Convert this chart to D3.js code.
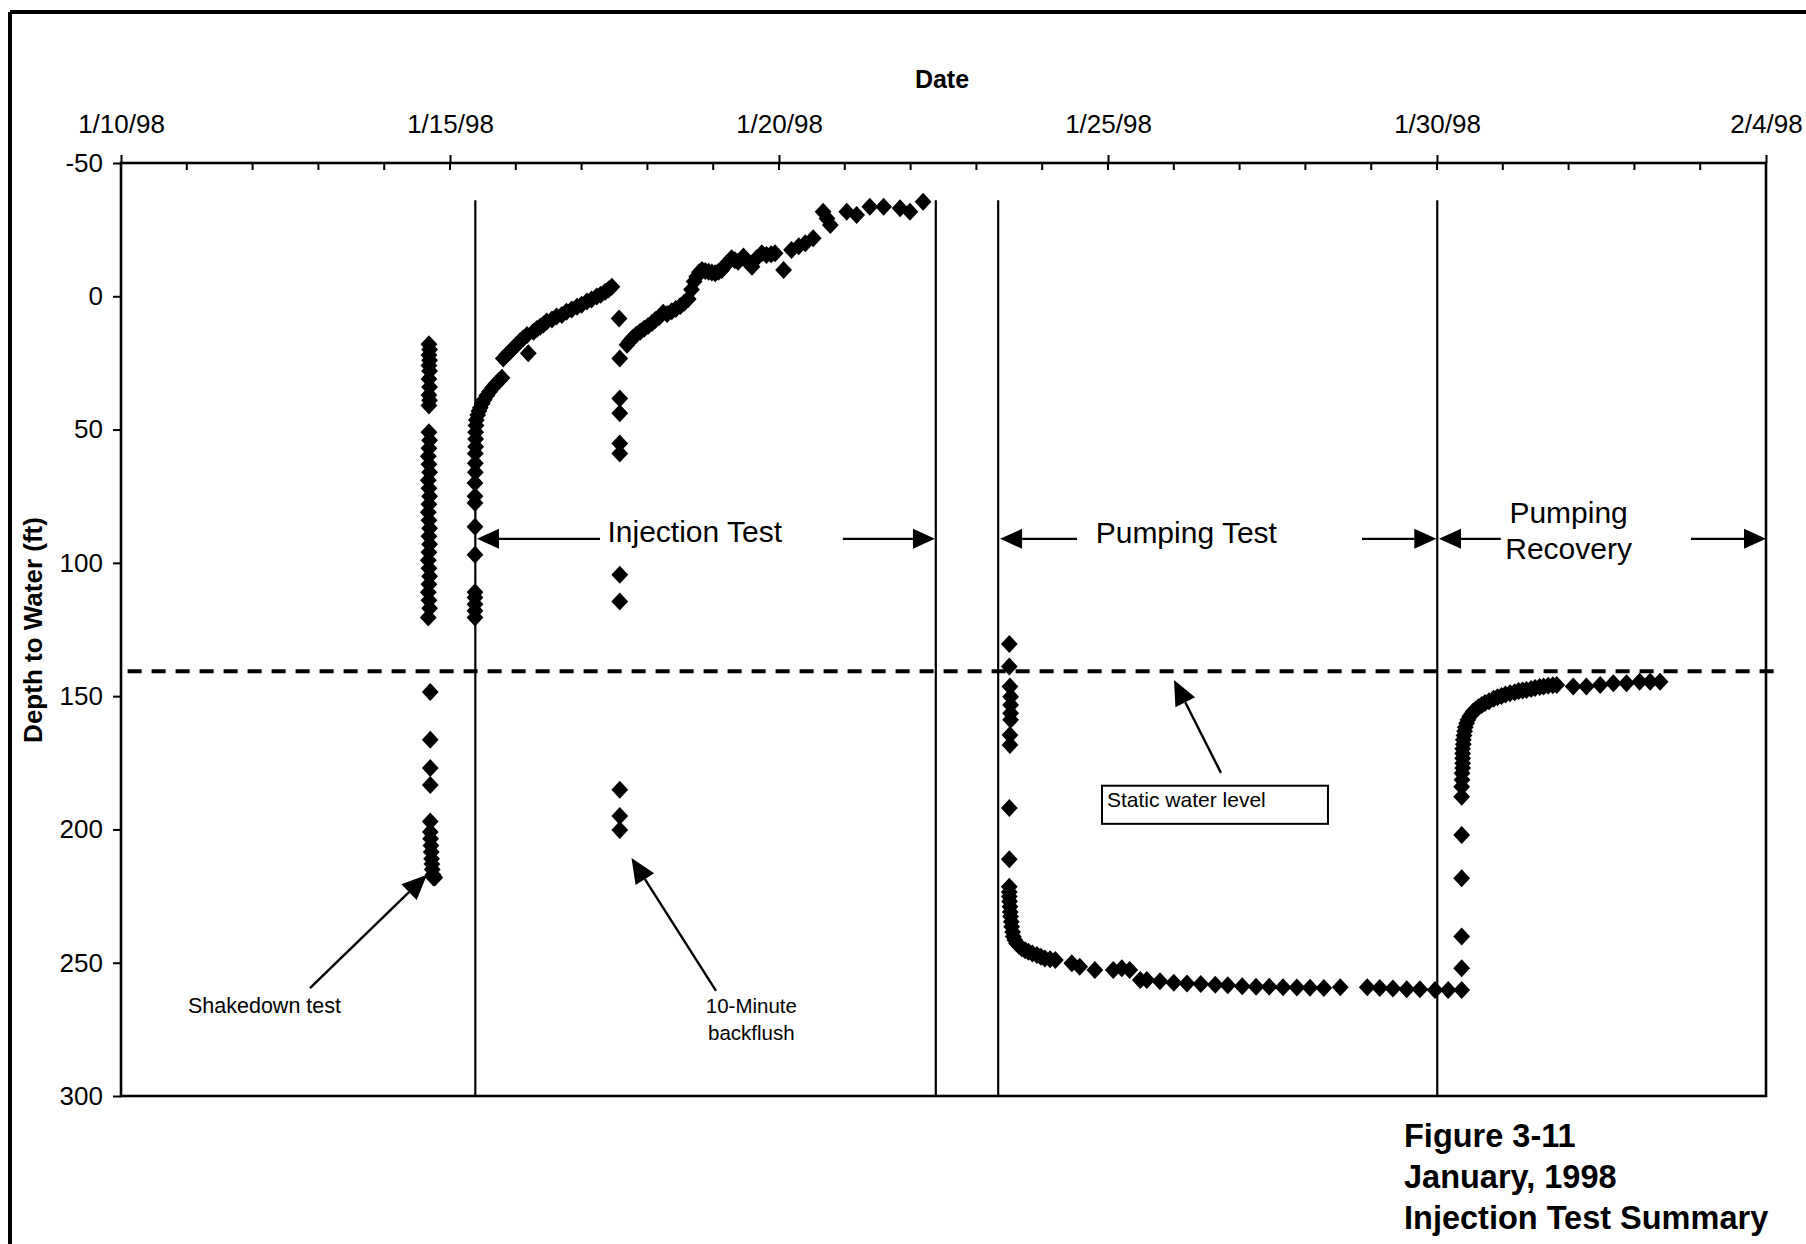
<!DOCTYPE html>
<html><head><meta charset="utf-8">
<script src="https://cdn.jsdelivr.net/npm/d3@7"></script>
<style>
html,body{margin:0;padding:0;background:#fff;}
svg{display:block;}
</style></head><body>
<svg id="chart" width="1806" height="1244"></svg>
<script>
// ---------- DATA (dates are day-of-January 1998, decimal; 32 = Feb 1) ----------
const xTickDays   = [10, 15, 20, 25, 30, 35];
const xTickLabels = ["1/10/98", "1/15/98", "1/20/98", "1/25/98", "1/30/98", "2/4/98"];
const yTicks      = [-50, 0, 50, 100, 150, 200, 250, 300];

const shakedownDay = [14.68,14.69,14.68,14.69,14.68,14.69,14.68,14.69,14.68,14.69,14.68,
  14.68,14.69,14.68,14.67,14.68,14.69,14.67,14.68,14.69,14.68,14.67,14.68,14.69,14.68,14.69,14.68,14.67,14.68,14.69,14.68,14.67,14.68,14.69,14.67,
  14.70,14.70,14.70,14.70,14.70,14.70,14.705,14.71,14.715,14.72,14.725,14.73,14.74,14.75,14.77];
const shakedownDepth = [18,20,22,24,26,28,31,34,37,39,41,
  51,54,57,60,63,66,69,72,75,78,81,84,87,90,93,96,99,102,105,108,111,114,117,120.5,
  148.4,166.4,177,183.3,197,201,203.5,206,208.5,211,213,215,217,218,218];

const injectionDay = [15.38,15.38,15.38,15.38,15.38,15.38,15.38,15.38,15.38,15.38,15.385,15.385,15.385,15.39,15.39,15.39,15.395,15.40,15.42,15.44,15.46,15.49,15.52,15.56,15.60,15.65,15.70,15.75,15.79,
  15.81,15.86,15.91,15.96,16.01,16.06,16.11,16.19,16.17,16.27,16.32,16.37,16.42,16.47,16.55,16.62,16.70,16.77,16.85,16.93,17.00,17.08,17.15,17.23,17.29,17.36,17.41,17.46,
  17.69,17.73,17.78,17.83,17.89,17.95,18.01,18.07,18.12,18.18,18.24,18.30,18.37,18.43,18.50,18.56,18.62,18.67,18.71,18.75,18.79,18.83,18.88,18.93,18.98,19.03,19.08,19.13,19.17,19.21,19.28,19.33,19.38,19.46,19.52,19.59,19.66,19.74,19.81,19.88,19.94,20.07,20.19,20.30,20.40,20.52,20.67,20.73,20.78,21.03,21.18,21.38,21.59,21.84,21.99,22.19];
const injectionDepth = [120.5,118,115.5,113,111,97,86.5,77.5,75,70,66,62.6,59,56.4,53.5,51,48.5,46.4,44.5,43,41.8,40.2,38.8,37.2,35.8,34.2,32.8,31.6,30.6,
  23.3,22,20.8,19.5,18.3,17,15.8,21.4,14.5,13.3,12.3,11.4,10.6,9.5,8.7,7.6,7,5.8,5,3.9,3.2,2,1.2,0.1,-0.6,-1.7,-2.5,-3.6,
  18.2,16.9,15.6,14.4,13.3,12.2,11.1,10,8.9,7.8,6.2,6.6,5.6,4.8,3.6,2.4,1.0,-2.5,-5.5,-7.4,-9,-9.9,-9.5,-9.2,-8.9,-8.6,-9.2,-9.9,-11.2,-12.4,-14.3,-13.5,-13.0,-14.9,-13,-11.1,-14.3,-16.1,-15.5,-15.8,-16.1,-9.9,-17.4,-18.8,-19.9,-21.8,-31.7,-29.2,-26.7,-31.7,-30.5,-33.6,-33.6,-33.0,-31.7,-35.5];

const backflushDay   = [17.57,17.58,17.58,17.58,17.58,17.58,17.58,17.58,17.58,17.58,17.58];
const backflushDepth = [8.3,23.3,38.3,43.9,55.2,59,104.5,114.5,185.1,195,200.2];

const pumpingDay = [23.50,23.50,23.51,23.52,23.52,23.52,23.52,23.51,23.51,23.50,23.50,23.50,23.50,23.50,23.505,23.51,23.515,23.52,23.53,23.536,23.55,23.56,23.585,23.61,23.65,23.69,23.74,23.79,23.85,23.92,23.98,24.04,24.12,24.20,
  24.45,24.57,24.80,25.08,25.21,25.33,25.49,25.59,25.79,26.00,26.20,26.41,26.63,26.82,27.04,27.25,27.45,27.66,27.87,28.07,28.28,28.53,
  28.94,29.13,29.33,29.54,29.74,29.97,30.17];
const pumpingDepth = [130.4,138.9,146.4,150.2,153.3,156.4,158.9,164.6,168.3,192,211.2,221.5,223.5,225.2,227,229,231,232.7,234.6,236.5,238.5,240.2,241.5,242.7,243.7,244.6,245.3,245.9,246.5,247.1,247.8,248.4,248.7,249,
  250.2,251.5,252.7,252.7,252.1,252.7,256.5,256.5,257,257.5,257.8,258,258.3,258.5,258.8,259,259,259.2,259.3,259.4,259.5,259.2,
  259.2,259.5,259.7,260,260,260.2,260.2];

const recoveryDay = [30.375,30.375,30.375,30.375,30.375,30.375,30.375,30.38,30.38,30.39,30.39,30.39,30.39,30.39,30.40,30.40,30.41,30.42,30.43,30.45,30.47,30.50,30.53,30.55,30.59,30.63,30.68,30.73,30.79,30.86,30.92,30.98,31.04,31.11,31.18,31.24,31.30,31.36,31.43,31.49,31.56,31.62,31.69,31.76,31.82,
  32.07,32.27,32.48,32.68,32.88,33.08,33.24,33.39];
const recoveryDepth = [260.2,252.1,240.2,218.3,202.1,187.7,184,181.4,178.9,177,175.2,173.3,171.5,169.7,168,166.4,164.8,163.2,161.7,160.2,158.9,157.5,156.6,155.8,155,154.2,153.3,152.6,151.9,151,150.4,149.9,149.4,148.9,148.5,148.1,147.9,147.7,147.3,146.9,146.6,146.4,146.1,145.9,145.8,
  146.4,146.4,145.8,145.2,145.2,144.6,144.6,144.6];

const periodLineDays = [15.385, 22.383, 23.331, 30.004];
const periodLineTop  = -36;
const staticLevel    = 140.7;
const staticSpan     = [10.1, 35.25];

// ---------- SETUP ----------
const FONT = '"Liberation Sans", Arial, Helvetica, sans-serif';
const svg = d3.select("#chart");
const X0 = 121, X1 = 1766, Y0 = 163, Y1 = 1096;
const toDate = d => new Date(Date.UTC(1998, 0, 1) + (d - 1) * 864e5);
const x = d3.scaleUtc().domain([toDate(10), toDate(35)]).range([X0, X1]);
const y = d3.scaleLinear().domain([-50, 300]).range([Y0, Y1]);
const px = d => x(toDate(d));

// outer page frame
svg.append("line").attr("x1", 10).attr("y1", 12).attr("x2", 1806).attr("y2", 12).attr("stroke", "#000").attr("stroke-width", 4);
svg.append("line").attr("x1", 10).attr("y1", 12).attr("x2", 10).attr("y2", 1244).attr("stroke", "#000").attr("stroke-width", 4);

// axes
const gx = svg.append("g").attr("transform", `translate(0,${Y0})`)
  .call(d3.axisTop(x).tickValues(xTickDays.map(toDate)).tickFormat((d, i) => xTickLabels[i]).tickSize(8).tickPadding(22));
gx.select(".domain").remove();
gx.attr("font-family", FONT).attr("font-size", 26);
gx.selectAll("line").attr("stroke-width", 2);

// minor daily ticks (inside)
svg.append("g").selectAll("line").data(d3.range(10, 36)).join("line")
  .attr("x1", d => px(d)).attr("x2", d => px(d)).attr("y1", Y0).attr("y2", Y0 + 7)
  .attr("stroke", "#000").attr("stroke-width", 2);

const gy = svg.append("g").attr("transform", `translate(${X0},0)`)
  .call(d3.axisLeft(y).tickValues(yTicks).tickFormat(d => String(d)).tickSize(8).tickPadding(10));
gy.select(".domain").remove();
gy.attr("font-family", FONT).attr("font-size", 26);
gy.selectAll("line").attr("stroke-width", 2);

// plot frame
svg.append("rect").attr("x", X0).attr("y", Y0).attr("width", X1 - X0).attr("height", Y1 - Y0)
  .attr("fill", "none").attr("stroke", "#000").attr("stroke-width", 2.6);

// axis titles
svg.append("text").attr("x", 942).attr("y", 88).attr("text-anchor", "middle")
  .attr("font-family", FONT).attr("font-weight", "bold").attr("font-size", 25).text("Date");
svg.append("text").attr("transform", "translate(42,630) rotate(-90)").attr("text-anchor", "middle")
  .attr("font-family", FONT).attr("font-weight", "bold").attr("font-size", 26).text("Depth to Water (ft)");

// period lines
svg.append("g").selectAll("line").data(periodLineDays).join("line")
  .attr("x1", d => px(d)).attr("x2", d => px(d)).attr("y1", y(periodLineTop)).attr("y2", Y1)
  .attr("stroke", "#000").attr("stroke-width", 2.2);

// static water level
svg.append("line").attr("x1", px(staticSpan[0])).attr("x2", px(staticSpan[1]))
  .attr("y1", y(staticLevel)).attr("y2", y(staticLevel))
  .attr("stroke", "#000").attr("stroke-width", 4).attr("stroke-dasharray", "14,10");

// data points
const diamond = "M0,-9L8.4,0L0,9L-8.4,0Z";
const series = [
  d3.zip(shakedownDay, shakedownDepth),
  d3.zip(injectionDay, injectionDepth),
  d3.zip(backflushDay, backflushDepth),
  d3.zip(pumpingDay, pumpingDepth),
  d3.zip(recoveryDay, recoveryDepth)
];
const gp = svg.append("g");
series.forEach(s => {
  gp.append("g").selectAll("path").data(s).join("path")
    .attr("d", diamond).attr("transform", d => `translate(${px(d[0])},${y(d[1])})`).attr("fill", "#000");
});

// arrows
function arrow(d0, v0, d1, v1, len = 22, hw = 10, sw = 2.2) {
  const xa = px(d0), ya = y(v0), xb = px(d1), yb = y(v1);
  const ang = Math.atan2(yb - ya, xb - xa);
  const bx = xb - len * Math.cos(ang), by = yb - len * Math.sin(ang);
  svg.append("line").attr("x1", xa).attr("y1", ya).attr("x2", bx).attr("y2", by).attr("stroke", "#000").attr("stroke-width", sw);
  const nx = -Math.sin(ang) * hw, ny = Math.cos(ang) * hw;
  svg.append("path").attr("d", `M${xb},${yb}L${bx + nx},${by + ny}L${bx - nx},${by - ny}Z`).attr("fill", "#000");
}
const arrowY = 91;
arrow(17.28, arrowY, 15.41, arrowY);
arrow(20.97, arrowY, 22.37, arrowY);
arrow(24.53, arrowY, 23.36, arrowY);
arrow(28.86, arrowY, 29.99, arrowY);
arrow(30.97, arrowY, 30.03, arrowY);
arrow(33.86, arrowY, 35.0, arrowY);
arrow(12.872, 259.5, 14.65, 217.0, 25, 11, 2.4);
arrow(19.043, 260.6, 17.758, 210.7, 25, 11, 2.4);
arrow(26.717, 178.8, 26.003, 143.9, 25, 11, 2.4);

// annotations
function label(d, v, txt, size, anchor = "middle", weight = "normal") {
  svg.append("text").attr("x", px(d)).attr("y", y(v)).attr("text-anchor", anchor)
    .attr("font-family", FONT).attr("font-size", size).attr("font-weight", weight).text(txt);
}
label(18.72, 92.0, "Injection Test", 30);
label(26.19, 92.6, "Pumping Test", 30);
label(32.0, 85.0, "Pumping", 30);
label(32.0, 98.6, "Recovery", 30);
label(11.018, 268.8, "Shakedown test", 21.5, "start");
label(19.58, 268.8, "10-Minute", 20.5);
label(19.58, 279.0, "backflush", 20.5);

// static water level box
svg.append("rect").attr("x", px(24.909)).attr("y", y(183.6)).attr("width", px(28.343) - px(24.909)).attr("height", y(197.9) - y(183.6))
  .attr("fill", "#fff").attr("stroke", "#000").attr("stroke-width", 2);
label(24.985, 191.5, "Static water level", 21, "start");

// figure caption
const cap = svg.append("g").attr("font-family", FONT).attr("font-weight", "bold").attr("font-size", 32.5);
[["Figure 3-11", 1147], ["January, 1998", 1188], ["Injection Test Summary", 1229]].forEach(([t, yy]) => {
  cap.append("text").attr("x", 1404).attr("y", yy).text(t);
});
</script>
</body></html>
